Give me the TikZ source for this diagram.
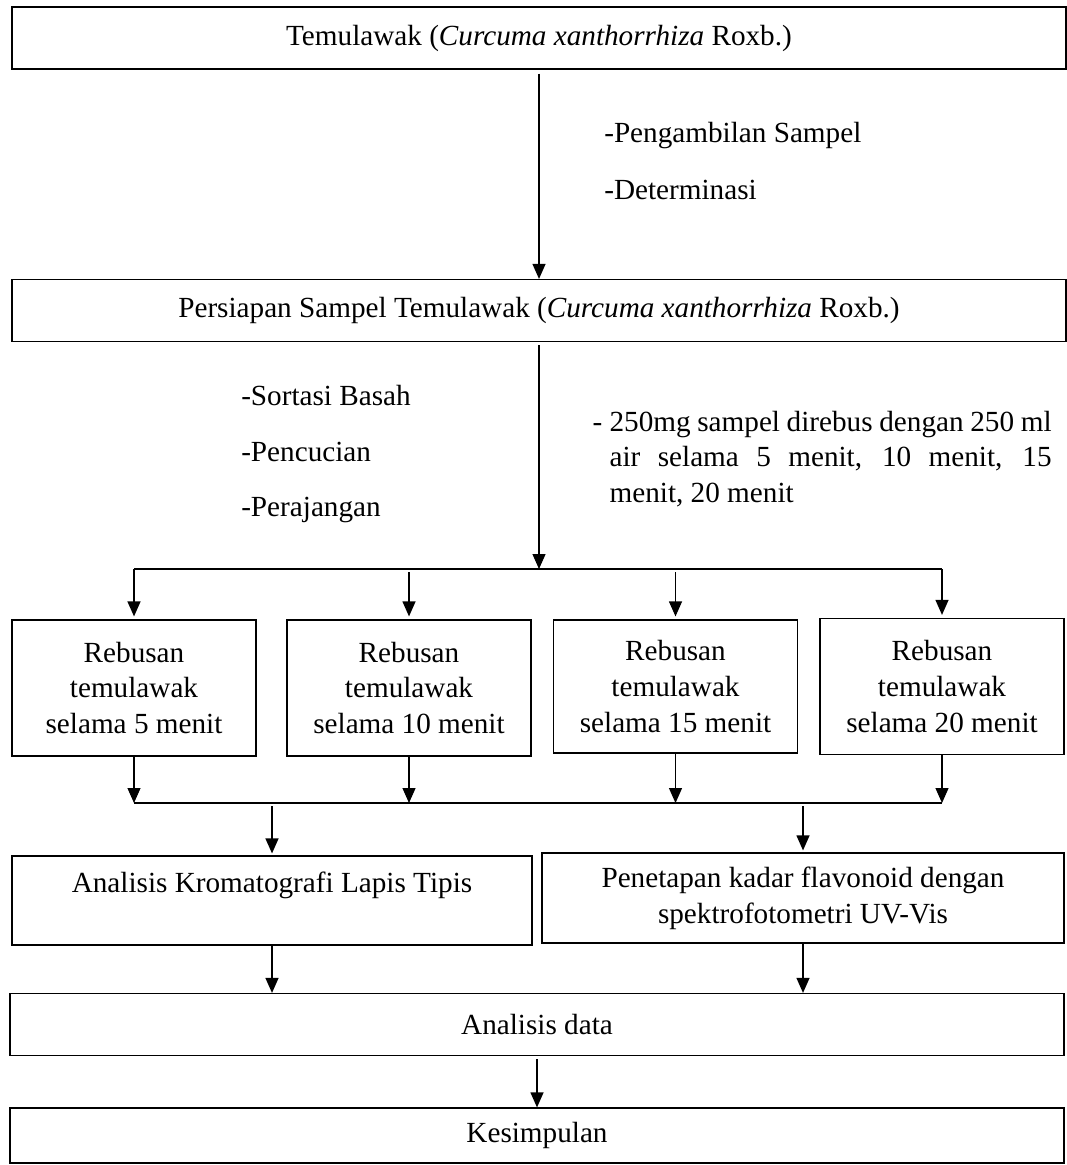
\documentclass[tikz,border=0pt]{standalone}
\usepackage{fontspec}
\setmainfont{Liberation Serif}
\usetikzlibrary{shapes,arrows.meta}

\begin{document}
\begin{tikzpicture}[x=0.5pt,y=-0.5pt,line width=0.6pt,>={Triangle[length=7.5pt,width=6.5pt]},
		font=\fontsize{14.6}{17.9}\selectfont,
		kotak/.style={draw,inner sep=0pt,align=center},
		lebar/.style={kotak,minimum width=527pt,minimum height=31pt},
		rebus/.style={kotak,minimum width=122pt,minimum height=68pt}]
			\useasboundingbox (0,0) rectangle (1066,1165);
			\node[lebar] (sampel) at (539,38) {Temulawak (\textit{Curcuma xanthorrhiza} Roxb.)};
			\node[lebar] (persiapan) at (539,310.5) {Persiapan Sampel Temulawak (\textit{Curcuma xanthorrhiza} Roxb.)};
			\node[anchor=base west] (ambil) at (597,143) {-Pengambilan Sampel};
			\node[anchor=base west] (determinasi) at (597,200) {-Determinasi};
			\draw[->,shorten <=2pt] (sampel) -- (persiapan);
			\node[anchor=base west] (sortasi) at (234,406) {-Sortasi Basah};
			\node[anchor=base west] (cuci) at (234,461) {-Pencucian};
			\node[anchor=base west] (rajang) at (234,516) {-Perajangan};
			\node[anchor=base west,inner sep=0pt,text width=221pt,align=justify] (rebusan) at (609,431)
				{\llap{- }250mg sampel direbus dengan 250 ml\linebreak air selama 5 menit, 10 menit, 15\linebreak menit, 20 menit};
			\coordinate (cabang) at (539,569);
			\draw[->,shorten <=1.5pt] (persiapan) -- (cabang);
			\node[rebus] (lima) at (134,688) {Rebusan\\temulawak\\selama 5 menit};
			\node[rebus] (sepuluh) at (409,688) {Rebusan\\temulawak\\selama 10 menit};
			\node[rebus,minimum height=66.5pt] (limabelas) at (675.5,686.5) {Rebusan\\temulawak\\selama 15 menit};
			\node[rebus] (duapuluh) at (942,686.5) {Rebusan\\temulawak\\selama 20 menit};
			\draw (lima.north |- cabang) -- (duapuluh.north |- cabang);
			\draw[->,shorten >=1.5pt] (lima.north |- cabang) -- (lima.north);
			\draw[->,shorten <=1.5pt,shorten >=1.5pt] (sepuluh.north |- cabang) -- (sepuluh.north);
			\draw[->,shorten <=1.5pt,shorten >=1.5pt] (limabelas.north |- cabang) -- (limabelas.north);
			\draw[->,shorten >=1.5pt] (duapuluh.north |- cabang) -- (duapuluh.north);
			\coordinate (gabung) at (539,803);
			\draw[->] (lima.south) -- (lima.south |- gabung);
			\draw[->] (sepuluh.south) -- (sepuluh.south |- gabung);
			\draw[->] (limabelas.south) -- (limabelas.south |- gabung);
			\draw[->] (duapuluh.south) -- (duapuluh.south |- gabung);
			\draw (lima.south |- gabung) -- (duapuluh.south |- gabung);
			\node[kotak,minimum width=260pt,minimum height=44.5pt] (klt) at (272,900.5) {Analisis Kromatografi Lapis Tipis\\\mbox{}};
			\node[kotak,minimum width=261pt,minimum height=45pt] (uv) at (803,898) {Penetapan kadar flavonoid dengan\\spektrofotometri UV-Vis};
			\draw[->,shorten <=1.5pt,shorten >=1pt] (klt.north |- gabung) -- (klt.north);
			\draw[->,shorten <=1.5pt,shorten >=1pt] (uv.north |- gabung) -- (uv.north);
			\node[lebar] (data) at (537,1024.5) {Analisis data};
			\node[lebar,minimum height=27.5pt] (simpul) at (537,1135.5) {Kesimpulan};
			\draw[->] (klt.south) -- (klt.south |- data.north);
			\draw[->] (uv.south) -- (uv.south |- data.north);
			\draw[->,shorten <=1.5pt] (data) -- (simpul);
		\end{tikzpicture}
\end{document}
